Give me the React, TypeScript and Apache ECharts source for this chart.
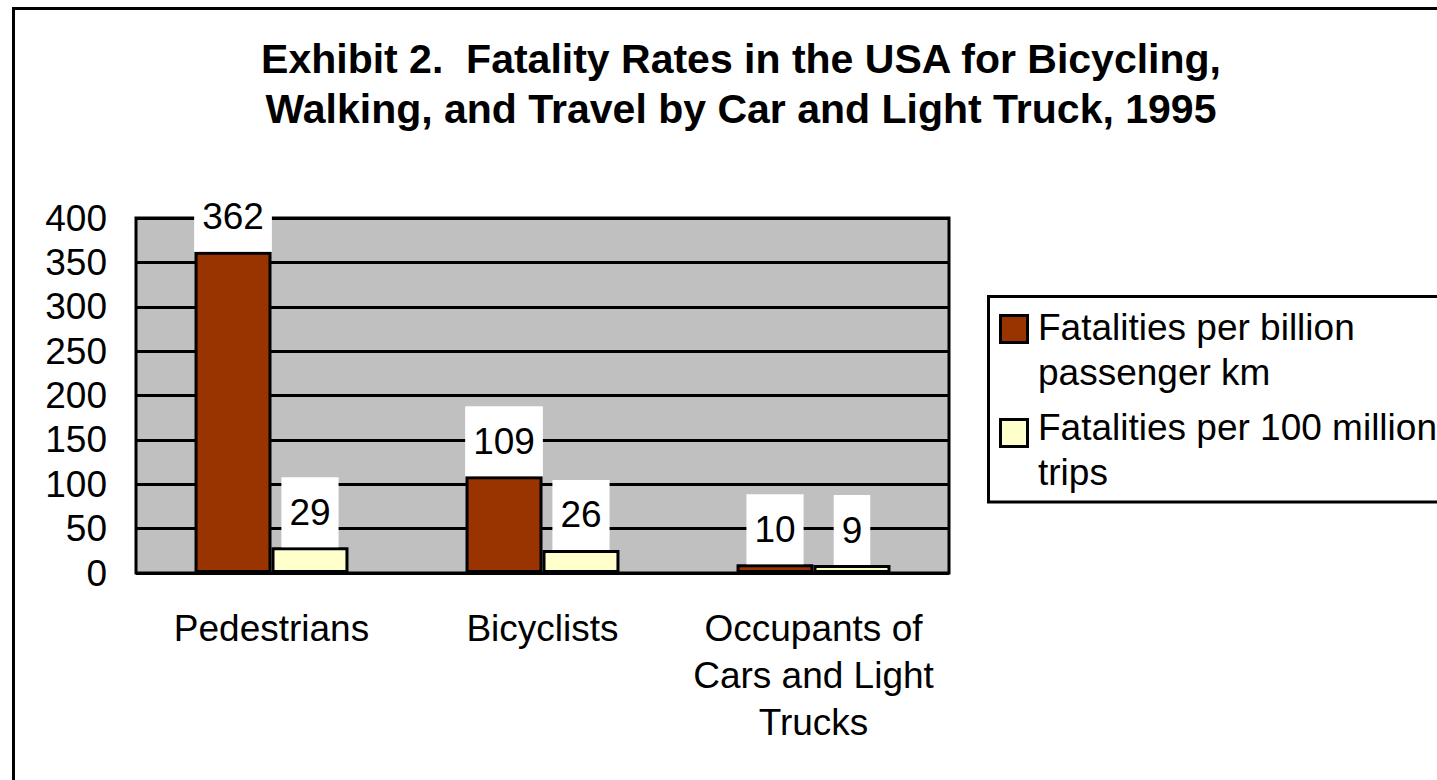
import React, { useEffect, useRef } from "react";
import * as echarts from "echarts";

const categories = ["Pedestrians", "Bicyclists", "Occupants of\nCars and Light\nTrucks"];
const perBillionKm = [362, 109, 10];
const per100MillionTrips = [29, 26, 9];
const seriesNames = ["Fatalities per billion passenger km", "Fatalities per 100 million trips"];
const legendLines = ["Fatalities per billion\npassenger km", "Fatalities per 100 million\ntrips"];
const titleText = "Exhibit 2.  Fatality Rates in the USA for Bicycling,\nWalking, and Travel by Car and Light Truck, 1995";

const FONT = "'Liberation Sans', Arial, sans-serif";
const BROWN = "#993300";
const CREAM = "#FFFFCC";

export default function App() {
  const ref = useRef<HTMLDivElement>(null);
  useEffect(() => {
    document.body.style.margin = "0";
    const chart = echarts.init(ref.current!, null, { renderer: "svg" });
    const label = {
      show: true,
      position: "top",
      distance: 0,
      backgroundColor: "#ffffff",
      padding: [16, 8],
      fontSize: 37,
      lineHeight: 38,
      color: "#000",
      fontFamily: FONT,
    };
    chart.setOption({
      animation: false,
      backgroundColor: "#ffffff",
      title: {
        text: titleText,
        left: 736,
        top: 29,
        textAlign: "center",
        textStyle: { fontSize: 41, fontWeight: "bold", lineHeight: 50, color: "#000", fontFamily: FONT },
      },
      grid: {
        left: 136,
        top: 218,
        right: 488,
        bottom: 207,
        show: true,
        backgroundColor: "#C0C0C0",
        borderColor: "#000",
        borderWidth: 3,
      },
      xAxis: {
        type: "category",
        data: categories,
        axisLine: { show: false },
        axisTick: { show: false },
        axisLabel: { interval: 0, fontSize: 37, lineHeight: 47, margin: 32, color: "#000", fontFamily: FONT },
      },
      yAxis: {
        type: "value",
        min: 0,
        max: 400,
        interval: 50,
        axisLine: { show: false },
        axisTick: { show: false },
        axisLabel: { fontSize: 37, margin: 29, color: "#000", fontFamily: FONT },
        splitLine: { lineStyle: { color: "#000", width: 3 } },
      },
      series: [
        {
          name: seriesNames[0],
          type: "bar",
          data: perBillionKm,
          barWidth: "28.4%",
          barGap: "0%",
          itemStyle: { color: BROWN, borderColor: "#000", borderWidth: 3 },
          label,
        },
        {
          name: seriesNames[1],
          type: "bar",
          data: per100MillionTrips,
          barWidth: "28.4%",
          barGap: "0%",
          itemStyle: { color: CREAM, borderColor: "#000", borderWidth: 3 },
          label,
        },
      ],
      graphic: [
        {
          type: "rect",
          shape: { x: 13.5, y: 8.5, width: 1600, height: 1000 },
          style: { fill: "none", stroke: "#000", lineWidth: 3 },
          silent: true,
          z: -1,
        },
        {
          type: "rect",
          shape: { x: 988.5, y: 296.5, width: 600, height: 205.5 },
          style: { fill: "#fff", stroke: "#000", lineWidth: 3 },
          silent: true,
        },
        {
          type: "rect",
          shape: { x: 1000.5, y: 315.5, width: 27, height: 27 },
          style: { fill: BROWN, stroke: "#000", lineWidth: 3 },
          silent: true,
          z: 2,
        },
        {
          type: "rect",
          shape: { x: 1000.5, y: 419.5, width: 27, height: 27 },
          style: { fill: CREAM, stroke: "#000", lineWidth: 3 },
          silent: true,
          z: 2,
        },
        {
          type: "text",
          x: 1038,
          y: 304.5,
          style: { text: legendLines[0], fontSize: 37, lineHeight: 45, fill: "#000", fontFamily: FONT, verticalAlign: "top" },
          silent: true,
          z: 2,
        },
        {
          type: "text",
          x: 1038,
          y: 404.5,
          style: { text: legendLines[1], fontSize: 37, lineHeight: 45, fill: "#000", fontFamily: FONT, verticalAlign: "top" },
          silent: true,
          z: 2,
        },
      ],
    });
    return () => chart.dispose();
  }, []);
  return <div ref={ref} style={{ width: 1437, height: 780 }} />;
}
